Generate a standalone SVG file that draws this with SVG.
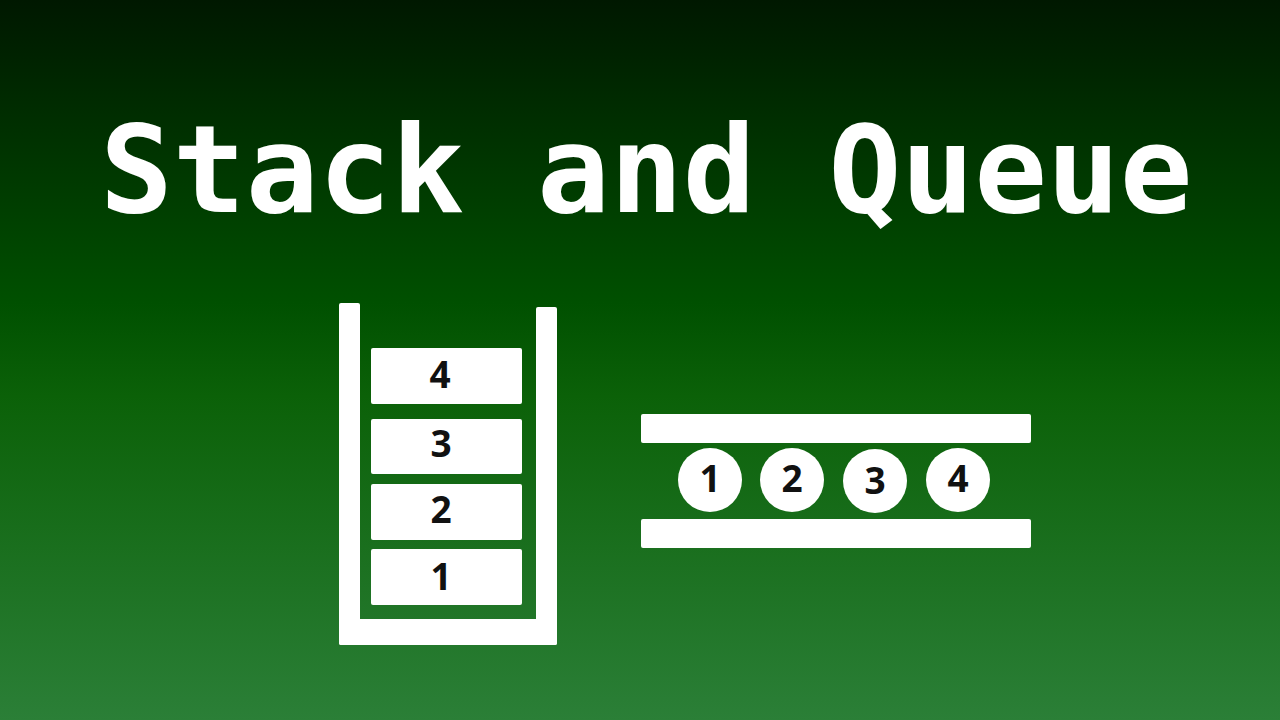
<svg xmlns="http://www.w3.org/2000/svg" width="1280" height="720" viewBox="0 0 1280 720">
<defs>
<linearGradient id="bg" x1="0" y1="0" x2="0" y2="1">
<stop offset="0" stop-color="#001800"/>
<stop offset="0.42" stop-color="#005000"/>
<stop offset="0.55" stop-color="#0b6108"/>
<stop offset="1" stop-color="#2b7f37"/>
</linearGradient>
</defs>
<style>
.w{fill:#ffffff}
.num{font-family:"Open Sans","Noto Sans",sans-serif;font-weight:bold;font-size:37px;fill:#111111;text-anchor:middle}
.title{font-family:"DejaVu Sans Mono",monospace;font-weight:bold;font-size:121px;fill:#ffffff}
</style>
<rect x="0" y="0" width="1280" height="720" fill="url(#bg)"/>
<text class="title" x="100" y="212">Stack and Queue</text>
<g id="stack">
<rect class="w" x="339" y="303" width="21" height="342" rx="2"/>
<rect class="w" x="536" y="307" width="21" height="338" rx="2"/>
<rect class="w" x="339" y="619" width="218" height="26" rx="2"/>
</g>
<g id="s4"><rect class="w" x="371" y="348" width="151" height="56" rx="2"/><text class="num" x="440" y="388">4</text></g>
<g id="s3"><rect class="w" x="371" y="419" width="151" height="55" rx="2"/><text class="num" x="441" y="457">3</text></g>
<g id="s2"><rect class="w" x="371" y="484" width="151" height="56" rx="2"/><text class="num" x="441" y="523">2</text></g>
<g id="s1"><rect class="w" x="371" y="549" width="151" height="56" rx="2"/><text class="num" x="441" y="590">1</text></g>
<g id="queue">
<rect class="w" x="641" y="414" width="390" height="29" rx="2"/>
<rect class="w" x="641" y="519" width="390" height="29" rx="2"/>
</g>
<g id="q1"><circle class="w" cx="710" cy="480" r="32"/><text class="num" x="710" y="492">1</text></g>
<g id="q2"><circle class="w" cx="792" cy="480" r="32"/><text class="num" x="792" y="492">2</text></g>
<g id="q3"><circle class="w" cx="875" cy="481" r="32"/><text class="num" x="875" y="494">3</text></g>
<g id="q4"><circle class="w" cx="958" cy="480" r="32"/><text class="num" x="958" y="492">4</text></g>
</svg>
